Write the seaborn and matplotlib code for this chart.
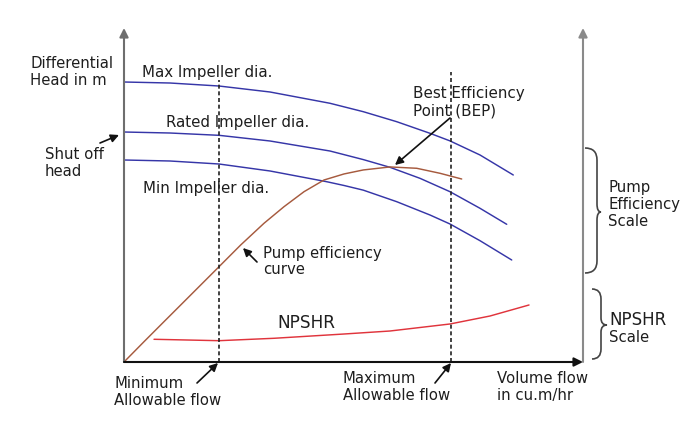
import matplotlib
matplotlib.use("Agg")
import matplotlib.pyplot as plt
import seaborn as sns
import pandas as pd
from matplotlib.path import Path
from matplotlib.patches import PathPatch

# ---------------- data (flow: % of x-axis length, head/scale: % of y-axis height)
flow_max = [0, 10.02, 20.70, 31.81, 44.88, 52.14, 59.41, 66.67, 71.02, 77.56, 84.81]
head_max = [83.83, 83.53, 82.63, 80.84, 77.46, 74.94, 71.95, 68.47, 66.20, 61.98, 55.99]
flow_rated = [0, 10.02, 20.70, 31.81, 44.88, 52.14, 57.95, 64.49, 71.02, 77.56, 83.38]
head_rated = [68.86, 68.56, 67.87, 66.17, 63.17, 60.60, 58.29, 54.99, 50.99, 46.02, 41.23]
flow_min = [0, 10.02, 20.70, 31.81, 44.16, 47.93, 52.14, 59.41, 66.67, 71.02, 77.56, 84.47]
head_min = [60.48, 60.18, 59.28, 57.19, 53.98, 52.85, 51.45, 48.00, 44.01, 41.32, 36.32, 30.54]
flow_eff = [0, 4.36, 8.71, 13.07, 17.43, 20.70, 25.42, 30.50, 34.86, 39.22, 43.57,
            47.93, 52.14, 57.95, 63.77, 68.85, 73.57]
efficiency = [0, 6.08, 12.07, 18.05, 24.04, 28.53, 35.03, 41.53, 46.50, 50.99, 54.49,
              56.30, 57.50, 58.40, 58.00, 56.50, 54.79]
flow_npshr = [6.54, 20.70, 32.68, 47.93, 57.95, 71.02, 79.74, 88.24]
npshr = [6.80, 6.38, 7.10, 8.38, 9.28, 11.38, 13.77, 17.07]
limit_flows = [20.7, 71.2]      # minimum / maximum allowable flow
limit_tops = [84.4, 86.8]

BLUE = "#3636a8"
BROWN = "#a65a3e"
RED = "#e0343c"
TXT = "#1e1e1e"

sns.set_style("white")
plt.rcParams['font.family'] = ['DejaVu Sans']

W, H = 695, 430
fig = plt.figure(figsize=(W / 100, H / 100), dpi=100)
ax = fig.add_axes([124 / W, (H - 362) / H, (583 - 124) / W, (362 - 28) / H])
ax.set_xlim(0, 100)
ax.set_ylim(0, 100)
ax.set_axis_off()

curves = [
    (flow_max, head_max, BLUE),
    (flow_rated, head_rated, BLUE),
    (flow_min, head_min, BLUE),
    (flow_eff, efficiency, BROWN),
    (flow_npshr, npshr, RED),
]
for fx, fy, col in curves:
    df = pd.DataFrame({"flow": fx, "value": fy})
    sns.lineplot(data=df, x="flow", y="value", ax=ax, color=col, lw=1.05,
                 estimator=None, sort=False)

ax.vlines(limit_flows, 0, limit_tops, colors="#222222",
          linestyles=(0, (2.4, 1.6)), lw=1.2)

# axes with arrow heads
def axis_arrow(start, end, col):
    ax.annotate('', xy=end, xytext=start, xycoords='axes fraction',
                textcoords='axes fraction', annotation_clip=False,
                arrowprops=dict(arrowstyle='-|>', color=col, lw=1.5,
                                mutation_scale=13, shrinkA=0, shrinkB=0))

axis_arrow((0, 0), (0, 1), "#6e6e6e")
axis_arrow((1, 0), (1, 1), "#8a8a8a")
axis_arrow((0, 0), (1, 0), "#111111")

# overlay in pixel coordinates for labels
ov = fig.add_axes([0, 0, 1, 1], zorder=5)
ov.set_xlim(0, W)
ov.set_ylim(H, 0)
ov.axis('off')

def T(x, y, s, size=10.7):
    ov.text(x, y, s, fontsize=size, color=TXT, va='baseline', ha='left')

def A(tail, tip):
    ov.annotate('', xy=tip, xytext=tail,
                arrowprops=dict(arrowstyle='-|>', color='#111111', lw=1.2,
                                mutation_scale=12, shrinkA=0, shrinkB=0))

def brace(x0, xv, xt, y1, y2, ym, r1, r2):
    verts = [(x0, y1), (xv, y1), (xv, y1 + r1), (xv, ym - r2), (xv, ym), (xt, ym),
             (xv, ym), (xv, ym + r2), (xv, y2 - r1), (xv, y2), (x0, y2)]
    codes = [Path.MOVETO, Path.CURVE3, Path.CURVE3, Path.LINETO, Path.CURVE3,
             Path.CURVE3, Path.CURVE3, Path.CURVE3, Path.LINETO, Path.CURVE3,
             Path.CURVE3]
    ov.add_patch(PathPatch(Path(verts, codes), fill=False, edgecolor='#444444', lw=1.2))

T(30, 68, "Differential")
T(30, 85, "Head in m")
T(142, 77, "Max Impeller dia.", 10.8)
T(166, 127, "Rated Impeller dia.", 10.8)
T(143, 193, "Min Impeller dia.", 10.8)
T(45, 159, "Shut off")
T(45, 176, "head")
A((100, 143), (119, 135))
T(413, 98, "Best Efficiency", 10.9)
T(413, 115, "Point (BEP)", 10.9)
A((450, 118), (395, 165))
T(263, 258, "Pump efficiency")
T(263, 274, "curve")
A((257, 262), (243, 248))
T(277, 328, "NPSHR", 12.2)
T(114, 388, "Minimum")
T(114, 405, "Allowable flow")
A((197, 383), (218, 363))
T(343, 383, "Maximum")
T(343, 400, "Allowable flow")
A((435, 383), (451, 363))
T(497, 383, "Volume flow")
T(497, 400, "in cu.m/hr")
T(608, 192, "Pump")
T(608, 209, "Efficiency")
T(608, 226, "Scale")
T(609, 325, "NPSHR", 12.0)
T(609, 342, "Scale")
brace(585, 597, 601, 148, 273, 212, 12, 8)
brace(592, 601, 607, 289, 359, 325, 10, 7)

fig.savefig("out.png", dpi=100)
